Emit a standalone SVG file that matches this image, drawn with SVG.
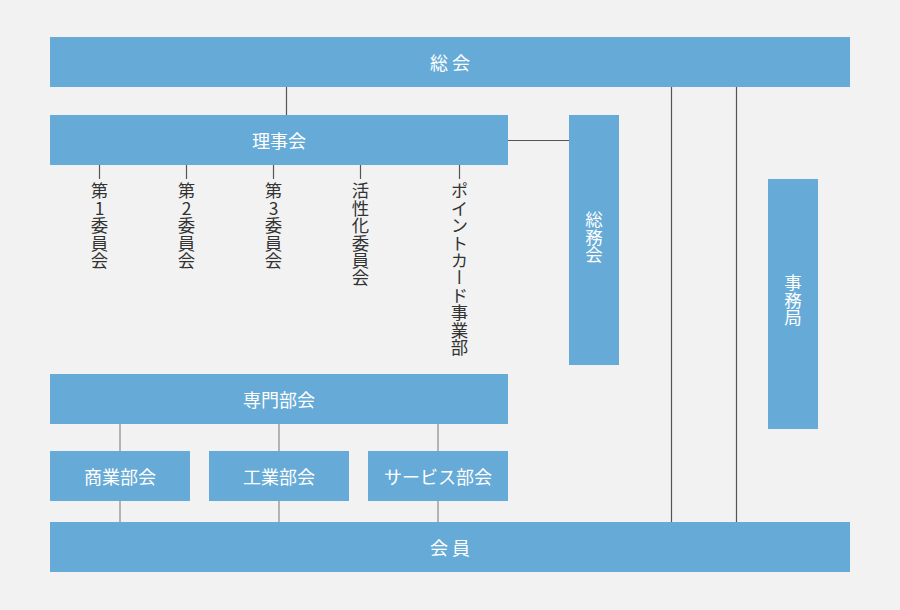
<svg xmlns="http://www.w3.org/2000/svg" width="900" height="610" viewBox="0 0 900 610">
<style>
.box{fill:#66aad7}
.lbl{fill:#ffffff;font-family:"Noto Sans CJK JP","Noto Sans",sans-serif;font-size:18px;text-anchor:middle;dominant-baseline:central}
.vlbl{fill:#ffffff;font-family:"Noto Sans CJK JP","Noto Sans",sans-serif;font-size:17.5px;text-anchor:middle;writing-mode:vertical-rl;text-orientation:upright}
.com{fill:#333333;font-family:"Noto Sans CJK JP","Noto Sans",sans-serif;font-size:17.4px;text-anchor:start;writing-mode:vertical-rl;text-orientation:upright}
.dk{stroke:#555555;stroke-width:1.2;fill:none}
.lt{stroke:#a3a3a3;stroke-width:1.6;fill:none}
</style>
<rect width="900" height="610" fill="#f2f2f2"/>
<g id="connectors">
<line class="dk" x1="286.5" y1="87" x2="286.5" y2="115"/>
<line class="dk" x1="508" y1="140.5" x2="569" y2="140.5"/>
<line class="dk" x1="671.5" y1="87" x2="671.5" y2="522"/>
<line class="dk" x1="736.5" y1="87" x2="736.5" y2="522"/>
<line class="dk" x1="99.5" y1="165" x2="99.5" y2="179"/>
<line class="dk" x1="186.5" y1="165" x2="186.5" y2="179"/>
<line class="dk" x1="273.5" y1="165" x2="273.5" y2="179"/>
<line class="dk" x1="360.5" y1="165" x2="360.5" y2="179"/>
<line class="dk" x1="459.5" y1="165" x2="459.5" y2="179"/>
<line class="lt" x1="120" y1="424" x2="120" y2="451"/>
<line class="lt" x1="279" y1="424" x2="279" y2="451"/>
<line class="lt" x1="438" y1="424" x2="438" y2="451"/>
<line class="lt" x1="120" y1="501" x2="120" y2="522"/>
<line class="lt" x1="279" y1="501" x2="279" y2="522"/>
<line class="lt" x1="438" y1="501" x2="438" y2="522"/>
</g>
<g id="soukai">
<rect class="box" x="50" y="37" width="800" height="50"/>
<text class="lbl" x="450" y="62">総 会</text>
</g>
<g id="rijikai">
<rect class="box" x="50" y="115" width="458" height="50"/>
<text class="lbl" x="279" y="140">理事会</text>
</g>
<g id="iinkai1"><text class="com" x="99.5" y="182">第1委員会</text></g>
<g id="iinkai2"><text class="com" x="186.5" y="182">第2委員会</text></g>
<g id="iinkai3"><text class="com" x="273.5" y="182">第3委員会</text></g>
<g id="kasseika"><text class="com" x="360.5" y="182">活性化委員会</text></g>
<g id="pointcard"><text class="com" x="459.5" y="182">ポイントカード事業部</text></g>
<g id="soumukai">
<rect class="box" x="569" y="115" width="50" height="250"/>
<text class="vlbl" x="594" y="237">総務会</text>
</g>
<g id="jimukyoku">
<rect class="box" x="768" y="179" width="50" height="250"/>
<text class="vlbl" x="793" y="300">事務局</text>
</g>
<g id="senmon">
<rect class="box" x="50" y="374" width="458" height="50"/>
<text class="lbl" x="279" y="399">専門部会</text>
</g>
<g id="shougyou">
<rect class="box" x="50" y="451" width="140" height="50"/>
<text class="lbl" x="120" y="476">商業部会</text>
</g>
<g id="kougyou">
<rect class="box" x="209" y="451" width="140" height="50"/>
<text class="lbl" x="279" y="476">工業部会</text>
</g>
<g id="service">
<rect class="box" x="368" y="451" width="140" height="50"/>
<text class="lbl" x="438" y="476">サービス部会</text>
</g>
<g id="kaiin">
<rect class="box" x="50" y="522" width="800" height="50"/>
<text class="lbl" x="450" y="547">会 員</text>
</g>
</svg>
